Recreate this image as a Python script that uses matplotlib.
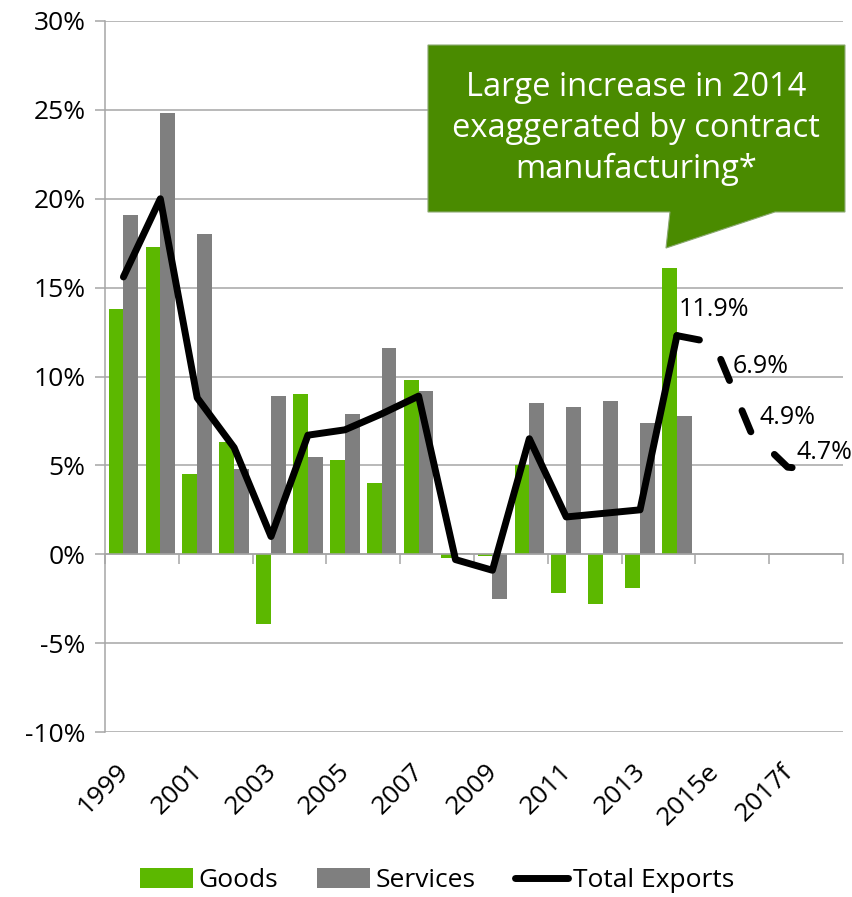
import numpy as np
import matplotlib.pyplot as plt
from matplotlib.patches import Polygon
from matplotlib.lines import Line2D
from matplotlib.patches import Patch

plt.rcParams['font.family'] = ['Open Sans', 'DejaVu Sans']

# 年份（含估计值和预测值）
years = ['1999', '2000', '2001', '2002', '2003', '2004', '2005', '2006', '2007',
         '2008', '2009', '2010', '2011', '2012', '2013', '2014',
         '2015e', '2016f', '2017f', '2018f']

# 增长率 (%)，1999-2014
goods = [13.8, 17.3, 4.5, 6.3, -3.9, 9.0, 5.3, 4.0, 9.8,
         -0.2, -0.1, 5.0, -2.2, -2.8, -1.9, 16.1]
services = [19.1, 24.8, 18.0, 4.8, 8.9, 5.5, 7.9, 11.6, 9.2,
            0.1, -2.5, 8.5, 8.3, 8.6, 7.4, 7.8]
total = [15.6, 20.0, 8.8, 6.0, 1.0, 6.7, 7.0, 7.9, 8.9,
         -0.3, -0.9, 6.5, 2.1, 2.3, 2.5, 12.3]

# 2014 之后的估计/预测（虚线）
forecast = [12.3, 11.9, 6.9, 4.9, 4.7]
forecast_labels = ['', '11.9%', '6.9%', '4.9%', '4.7%']
label_offsets = [(0, 0), (0, 24), (7, 47), (0, 36), (0, 13)]

green = '#5cb800'
grey = '#7f7f7f'
axis_grey = '#a6a6a6'
fs = 19

fig = plt.figure(figsize=(8.52, 8.97), dpi=100)
ax = fig.add_axes([0.1232, 0.1839, 0.8662, 0.7927])

n = len(years)
x_hist = np.arange(len(goods))
bar_w = 0.4

ax.bar(x_hist - bar_w / 2, goods, bar_w, color=green, zorder=2)
ax.bar(x_hist + bar_w / 2, services, bar_w, color=grey, zorder=2)

ax.plot(x_hist, total, color='black', lw=5, solid_joinstyle='round',
        solid_capstyle='round', zorder=3)

x_fc = np.arange(len(goods) - 1, n)
ax.plot(x_fc, forecast, color='black', lw=5, linestyle=(0, (3.3, 4.7)),
        dash_capstyle='round', dash_joinstyle='round', zorder=3)

for xi, val, lab, off in zip(x_fc, forecast, forecast_labels, label_offsets):
    if lab:
        ax.annotate(lab, xy=(xi, val), xytext=off, textcoords='offset points',
                    ha='center', va='center', fontsize=fs - 1, zorder=4)

ax.set_xlim(-0.5, n - 0.5)
ax.set_ylim(-10, 30)
ax.set_yticks(np.arange(-10, 31, 5))
ax.set_yticklabels([f'{v}%' for v in range(-10, 31, 5)])

# 横轴在 0 处，刻度线落在每两个类别的分界
ax.spines['bottom'].set_position(('data', 0))
ax.set_xticks(np.arange(-0.5, n, 2))
ax.set_xticklabels([])
ax.spines['top'].set_visible(False)
ax.spines['right'].set_visible(False)
for s in ['left', 'bottom']:
    ax.spines[s].set_color(axis_grey)
    ax.spines[s].set_linewidth(1.1)
ax.tick_params(axis='both', direction='out', length=7, width=1.1,
               color=axis_grey, labelsize=fs, pad=7)
ax.yaxis.grid(True, color=axis_grey, lw=1.1, zorder=0)
ax.set_axisbelow(True)

# 年份标签放在图底部，每隔一年
for i in range(0, n, 2):
    ax.text(i - 0.2, -0.038, years[i], transform=ax.get_xaxis_transform(),
            rotation=45, rotation_mode='anchor', ha='right', va='top',
            fontsize=fs)

# 注释气泡
bubble = Polygon([(0.4377, 0.9662), (1.0027, 0.9662), (1.0027, 0.7314),
                  (0.9079, 0.7314), (0.7602, 0.6807), (0.7656, 0.7314),
                  (0.4377, 0.7314)], closed=True, transform=ax.transAxes,
                 facecolor='#4a8b00', edgecolor='#8aa870', lw=0.8,
                 clip_on=False, zorder=5)
ax.add_patch(bubble)
ax.text(0.72, 0.849, 'Large increase in 2014\nexaggerated by contract\nmanufacturing*',
        transform=ax.transAxes, ha='center', va='center', color='white',
        fontsize=23.5, linespacing=1.3, zorder=6)

handles = [Patch(facecolor=green), Patch(facecolor=grey),
           Line2D([0], [0], color='black', lw=5, solid_capstyle='round')]
fig.legend(handles, ['Goods', 'Services', 'Total Exports'], loc='center',
           bbox_to_anchor=(0.513, 0.018), ncol=3, frameon=False, fontsize=fs,
           handlelength=2.0, handleheight=0.8, handletextpad=0.2,
           columnspacing=1.5)

fig.savefig('out.png', dpi=100)
